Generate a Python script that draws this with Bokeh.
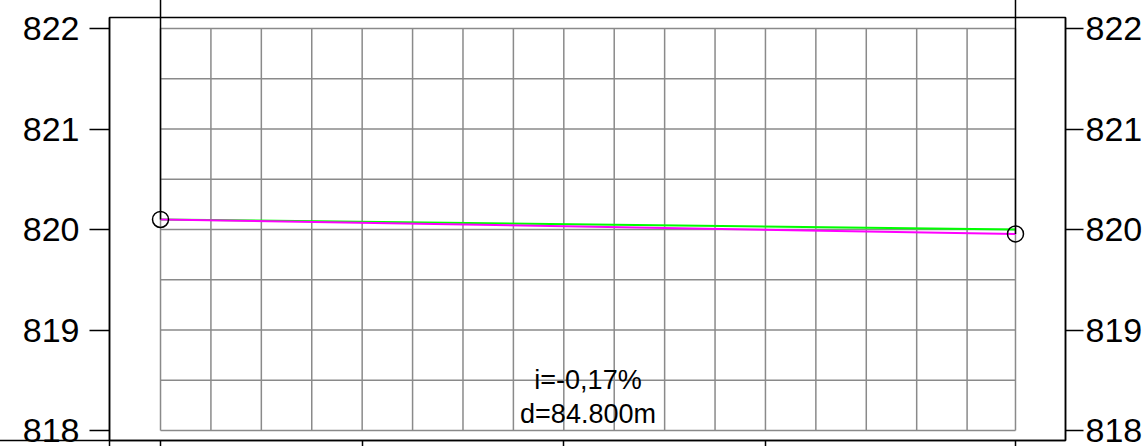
from bokeh.plotting import figure
from bokeh.models import Range1d, LinearAxis, FixedTicker, ColumnDataSource, CustomJSTickFormatter
from bokeh.embed import file_html
from bokeh.resources import INLINE
from bokeh.core.properties import value

# ---- data ----
stations = [0.0, 84.8]                 # chainage of the two nodes (m)
terrain = [820.10, 819.956]            # pipe / invert line (magenta)
ground = [820.10, 820.00]              # ground line (green)
grid_x = [0, 5, 10, 15, 20, 25, 30, 35, 40, 45, 50, 55, 60, 65, 70, 75, 80, 84.8]
grid_y = [818.0, 818.5, 819.0, 819.5, 820.0, 820.5, 821.0, 821.5, 822.0]
y_ticks = [818, 819, 820, 821, 822]
x_ticks = [0, 20, 40, 60, 84.8]
labels = ["i=-0,17%", "d=84.800m"]

FONT = "Liberation Sans"

x_start, x_end = -5.06, 89.76
y_start, y_end = 817.9005, 822.1095
XPX = 956 / (x_end - x_start)   # px per metre

p = figure(width=1148, height=446, output_backend="svg", toolbar_location=None,
           x_range=Range1d(x_start, x_end), y_range=Range1d(y_start, y_end),
           x_axis_type=None, y_axis_type=None,
           min_border_left=109, min_border_right=83, min_border_top=17, min_border_bottom=6)
p.background_fill_color = "white"
p.border_fill_color = "white"
p.outline_line_color = "black"
p.outline_line_width = 1.5
p.outline_line_alpha = 1.0

# grid
gx0 = min(grid_x); gx1 = max(grid_x)
gy0 = min(grid_y); gy1 = max(grid_y)
xs = [[g, g] for g in grid_x] + [[gx0, gx1] for _ in grid_y]
ys = [[gy0, gy1] for _ in grid_x] + [[g, g] for g in grid_y]
p.multi_line(xs=xs, ys=ys, line_color="#8a8a8a", line_width=1.5)

# profile lines
p.line(stations, ground, line_color="#00ff00", line_width=2)
p.line(stations, terrain, line_color="#ff00ff", line_width=2)

# node verticals (run up past the box) and circles
p.segment(x0=stations, y0=terrain, x1=stations, y1=[y_end + 1] * len(stations),
          line_color="black", line_width=1.5, level="overlay")
p.scatter(stations, terrain, size=16, fill_color=None, line_color="black", line_width=1.5)

# base line of the lower table continuing to the left edge
p.segment(x0=[x_start - 120 / XPX], y0=[y_start], x1=[x_start], y1=[y_start],
          line_color="black", line_width=1.5, level="overlay")

# annotation text
mid = (stations[0] + stations[-1]) / 2
src = ColumnDataSource(dict(x=[mid, mid], y=[y_ticks[0], y_ticks[0]], t=labels, off=[-51, -17]))
p.text(x="x", y="y", text="t", y_offset="off", source=src, text_align="center",
       text_baseline="alphabetic", text_font=value(FONT), text_font_size="27px",
       text_color="black")

def yaxis(tick_out, standoff):
    return LinearAxis(ticker=FixedTicker(ticks=y_ticks), major_tick_out=tick_out, major_tick_in=0,
                      minor_tick_out=0, minor_tick_in=0, major_label_standoff=standoff,
                      major_label_text_font=FONT, major_label_text_font_size="34px",
                      major_label_text_color="black",
                      axis_line_color="black", axis_line_width=1.5,
                      major_tick_line_color="black", major_tick_line_width=1.5)

p.add_layout(yaxis(20, 10), "left")
p.add_layout(yaxis(18, 2), "right")

xa = LinearAxis(ticker=FixedTicker(ticks=[x_start] + x_ticks), major_tick_out=6, major_tick_in=0,
                minor_tick_out=0, minor_tick_in=0, major_label_standoff=0,
                major_label_text_font_size="1px",
                formatter=CustomJSTickFormatter(code="return ''"),
                axis_line_color="black", axis_line_width=1.5,
                major_tick_line_color="black", major_tick_line_width=1.5)
p.add_layout(xa, "below")

open("out.html", "w").write(file_html(p, INLINE))
